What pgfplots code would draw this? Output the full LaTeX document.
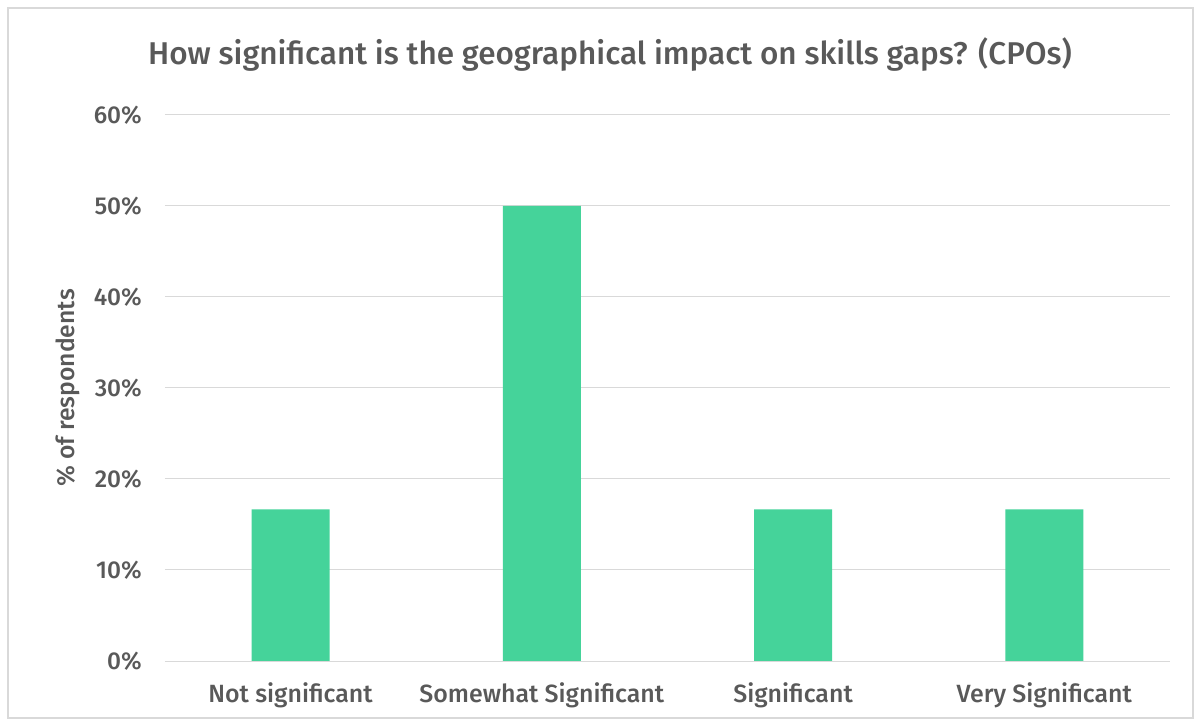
\documentclass[border=0pt]{standalone}
\usepackage{pgfplots}
\pgfplotsset{compat=1.18}
\usepackage{fontspec}
\setmainfont{Fira Sans Medium}
\definecolor{bargreen}{HTML}{45D39A}
\definecolor{txtgray}{HTML}{595959}
\definecolor{gridgray}{HTML}{D9D9D9}
\begin{document}
\begin{tikzpicture}
\useasboundingbox (-165bp,-64bp) rectangle (1036bp,661bp);
\fill[white] (-165bp,-64bp) rectangle (1036bp,661bp);
\draw[line width=1.5bp,color=gridgray] (-157bp,-57bp) rectangle (1028bp,653bp);
\begin{axis}[
  scale only axis,
  width=1005bp, height=546bp,
  xmin=-0.5, xmax=3.5,
  ymin=0, ymax=60,
  ytick={0,10,20,30,40,50,60},
  yticklabel={\pgfmathprintnumber{\tick}\%},
  xtick=data,
  xticklabels={Not significant, Somewhat Significant, Significant, Very Significant},
  axis line style={draw=none},
  major tick length=0pt,
  ymajorgrids,
  grid style={gridgray, line width=1bp},
  ticklabel style={text=txtgray, inner sep=0pt},
  yticklabel style={font=\fontsize{24.5}{28}\selectfont, anchor=east, xshift=-23bp},
  xticklabel style={font=\fontsize{25}{29}\selectfont, anchor=base, yshift=-41bp},
  /pgf/number format/assume math mode=true,
  ybar, bar width=78bp,
  ylabel={\% of respondents},
  ylabel style={font=\fontsize{24.8}{29}\selectfont, text=txtgray, at={(-97bp,273bp)}, anchor=center, rotate=0},
]
\addplot[fill=bargreen, draw=none] coordinates {
  (0, 16.67)
  (1, 50)
  (2, 16.67)
  (3, 16.67)
};
\end{axis}
\node[text=txtgray, font=\fontsize{31.6}{36}\selectfont, anchor=base] at (445bp,596bp) {How significant is the geographical impact on skills gaps? (CPOs)};
\end{tikzpicture}
\end{document}
